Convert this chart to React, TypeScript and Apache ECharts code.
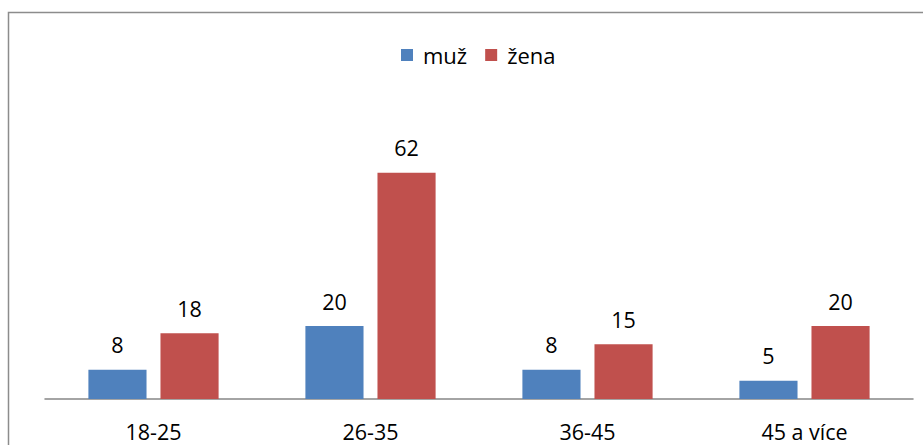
import React, { useEffect, useRef } from "react";
import * as echarts from "echarts";

const categories = ["18-25", "26-35", "36-45", "45 a více"];
const muz = [8, 20, 8, 5];
const zena = [18, 62, 15, 20];
const seriesNames = ["muž", "žena"];

export default function App() {
  const ref = useRef<HTMLDivElement>(null);
  useEffect(() => {
    if (!ref.current) return;
    const chart = echarts.init(ref.current, null, { renderer: "svg" });
    const font = "'Open Sans', 'Noto Sans', sans-serif";
    chart.setOption({
      animation: false,
      backgroundColor: "#ffffff",
      graphic: [
        {
          type: "rect",
          shape: { x: 8.5, y: 12.5, width: 1000, height: 1000 },
          style: { fill: "none", stroke: "#8c8c8c", lineWidth: 1.5 },
          silent: true,
        },
      ],
      legend: {
        top: 39,
        left: 396,
        itemWidth: 12,
        itemHeight: 12,
        itemGap: 18,
        icon: "rect",
        textStyle: { fontFamily: font, fontSize: 22, color: "#000", padding: [0, 0, 0, 5] },
        data: seriesNames,
      },
      grid: { left: 45, right: 10, top: 143.5, bottom: 46, containLabel: false },
      xAxis: {
        type: "category",
        data: categories,
        axisLine: { show: true, lineStyle: { color: "#868686", width: 1.5 } },
        axisTick: { show: false },
        axisLabel: { fontFamily: font, fontSize: 21.5, color: "#000", margin: 21 },
      },
      yAxis: {
        type: "value",
        min: 0,
        max: 70,
        show: false,
        splitLine: { show: false },
      },
      series: [
        {
          name: seriesNames[0],
          type: "bar",
          data: muz,
          itemStyle: { color: "#4F81BD" },
          barGap: "24%",
          barCategoryGap: "40%",
          label: { show: true, position: "top", distance: 14, fontFamily: font, fontSize: 21.5, color: "#000" },
        },
        {
          name: seriesNames[1],
          type: "bar",
          data: zena,
          itemStyle: { color: "#C0504D" },
          barGap: "24%",
          barCategoryGap: "40%",
          label: { show: true, position: "top", distance: 14, fontFamily: font, fontSize: 21.5, color: "#000" },
        },
      ],
    });
    return () => chart.dispose();
  }, []);
  return (
    <div
      ref={ref}
      style={{ position: "fixed", left: 0, top: 0, width: 923, height: 445 }}
    />
  );
}
